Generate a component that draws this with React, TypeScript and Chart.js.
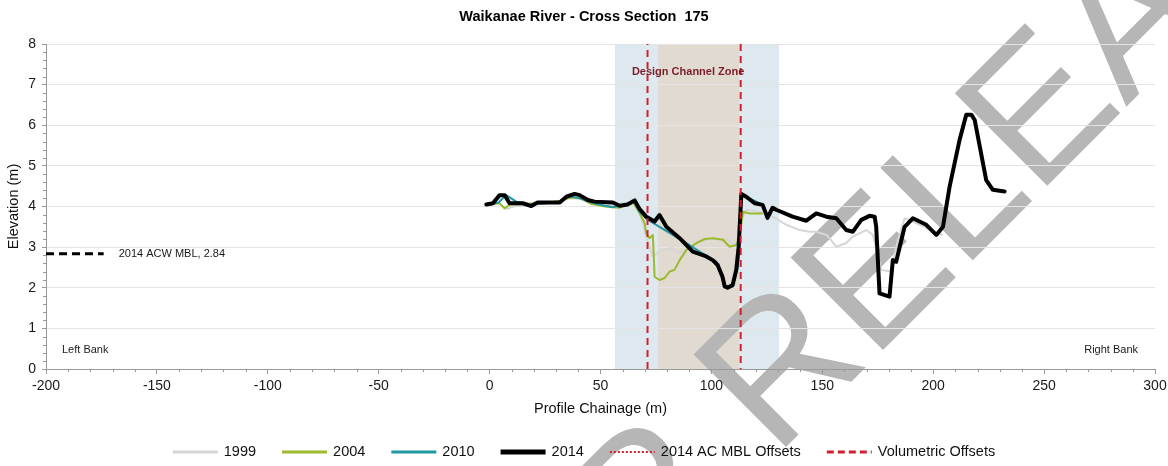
import React, { useEffect, useRef } from 'react';
import { Chart, registerables } from 'chart.js';

Chart.register(...registerables);

const FONT = '"Liberation Sans", Arial, Helvetica, sans-serif';

// ---- Data (chainage m, elevation m) ----
const ch1999 = [7.5, 10.4, 20, 30, 36, 42, 48, 56, 62, 65.4, 67.6, 69.5, 70.6, 73.6, 76.6, 81.9, 85.7, 88.7, 94.7, 100.7, 106.7, 111.2, 113.5, 115.7, 121.7, 127.7, 133.8, 139.8, 144.3, 147.3, 152, 156.3, 160.8, 163.8, 169.8, 172.8, 176.6, 181.1, 183.3, 187.1, 190.7, 196, 201.4, 204.2];
const el1999 = [3.93, 4.0, 4.05, 4.1, 4.2, 4.2, 4.08, 4.02, 4.04, 4.12, 3.85, 3.5, 3.26, 2.77, 2.89, 2.98, 2.86, 2.93, 3.14, 3.22, 3.18, 3.05, 3.67, 3.92, 3.87, 3.75, 3.55, 3.42, 3.38, 3.38, 3.3, 3.01, 3.1, 3.26, 3.42, 3.3, 2.44, 2.4, 3.01, 3.71, 3.63, 3.5, 3.34, 3.3];

const ch2004 = [0, 4.5, 6.8, 9, 15, 25, 32, 36, 41, 46, 52, 58.6, 64.5, 67.6, 69.9, 70.6, 72.1, 73.6, 74.4, 76.6, 78.9, 81.2, 83.4, 85.7, 88.7, 93.2, 97, 100.7, 105.2, 108.2, 111.2, 112.7, 114.2, 117.2, 123.2];
const el2004 = [4.05, 4.08, 3.95, 4.05, 4.07, 4.08, 4.14, 4.22, 4.2, 4.06, 4.0, 3.97, 4.12, 3.84, 3.59, 3.34, 3.22, 3.3, 2.27, 2.19, 2.24, 2.4, 2.44, 2.68, 2.93, 3.1, 3.2, 3.22, 3.18, 3.01, 3.05, 3.26, 3.87, 3.83, 3.83];

const ch2010 = [0, 4, 7.5, 12, 18, 25, 32, 36, 40.6, 46, 52, 55.6, 60, 65.4, 67.6, 71.4, 76.6, 82.6, 88.7, 94.7, 99.2, 102.2, 105.2, 106.7, 109.7, 112, 113.5, 117.2, 123.2, 125.5, 127.6];
const el2010 = [4.05, 4.1, 4.28, 4.12, 4.05, 4.08, 4.12, 4.26, 4.2, 4.1, 4.02, 3.98, 4.04, 4.12, 3.87, 3.67, 3.5, 3.3, 3.1, 2.89, 2.73, 2.64, 2.19, 1.99, 2.03, 2.52, 4.33, 4.2, 4.04, 3.75, 3.92];

const ch2014 = [-1.5, 1.5, 4.5, 6.8, 9, 15, 18.8, 21.6, 31.6, 34.6, 38.3, 40.6, 44.3, 47.3, 55.6, 58.6, 62.2, 65.4, 67.6, 70.6, 74.4, 76.6, 79.7, 85.7, 91.6, 97.7, 100.6, 102.8, 105, 106, 107.3, 109.6, 111.2, 112.3, 113.5, 115.7, 119.5, 123.1, 125.3, 127.6, 129.2, 136.6, 142.8, 147.3, 151.8, 156.3, 160.8, 163.8, 167.6, 171.3, 173.6, 174.3, 175.8, 180.3, 181.8, 183.3, 187.1, 190.8, 196.9, 201.4, 204.4, 207.4, 211.9, 214.9, 217.2, 218.7, 223.9, 226.9, 232.2];
const el2014 = [4.05, 4.08, 4.28, 4.28, 4.08, 4.08, 4.01, 4.1, 4.1, 4.24, 4.31, 4.28, 4.16, 4.12, 4.1, 4.02, 4.05, 4.15, 3.94, 3.75, 3.63, 3.79, 3.5, 3.22, 2.89, 2.77, 2.68, 2.56, 2.27, 2.03, 2.0, 2.07, 2.44, 3.01, 4.31, 4.24, 4.08, 4.04, 3.72, 3.97, 3.92, 3.75, 3.65, 3.83, 3.75, 3.71, 3.42, 3.38, 3.67, 3.77, 3.75, 3.5, 1.86, 1.78, 2.68, 2.64, 3.5, 3.71, 3.55, 3.3, 3.5, 4.49, 5.64, 6.26, 6.26, 6.13, 4.65, 4.41, 4.37];

const mblChainage = [-200, -174];
const mblElevation = 2.84;
const volumetricOffsets = [71.2, 113.2];
const channelOuter = [56.5, 130.5];
const channelInner = [76, 112.5];
const channelLabelAt = [89.5, 7.31];

const xTicks = { min: -200, max: 300, step: 50, minor: 10 };
const yTicks = { min: 0, max: 8, step: 1, minor: 0.2 };

const legendLabels = ['1999', '2004', '2010', '2014', '2014 AC MBL Offsets', 'Volumetric Offsets'];
const legendColors = ['#d6d6d6', '#9bba2d', '#1f98a3', '#000000', '#d21f2f', '#d21f2f'];
const legendWidths = [3, 3, 3, 5, 2, 3];
const legendDashes: number[][] = [[], [], [], [], [2, 2], [7, 4]];

const TITLE = 'Waikanae River - Cross Section  175';
const WM_PREFIX = 'NOT FOR ';
const WM_MAIN = 'RELEASE';

const pts = (xs: number[], ys: number[]) => xs.map((v, i) => ({ x: v, y: ys[i] }));

const decor = {
  id: 'decor',
  beforeDraw(chart: any) {
    const { ctx, chartArea: a, scales } = chart;
    const x = scales.x;
    ctx.save();
    // bands
    const o0 = x.getPixelForValue(channelOuter[0]);
    const o1 = x.getPixelForValue(channelOuter[1]);
    ctx.fillStyle = '#dde9ee';
    ctx.fillRect(o0, a.top, o1 - o0, a.bottom - a.top);
    const i0 = x.getPixelForValue(channelInner[0]);
    const i1 = x.getPixelForValue(channelInner[1]);
    ctx.fillStyle = '#e1dad0';
    ctx.fillRect(i0, a.top, i1 - i0, a.bottom - a.top);
    ctx.restore();

    // watermark
    ctx.save();
    ctx.font = `190px ${FONT}`;
    ctx.fillStyle = '#b6b6b6';
    ctx.textBaseline = 'alphabetic';
    ctx.textAlign = 'left';
    ctx.translate(775, 458);
    ctx.rotate(-Math.PI / 4);
    const pre = ctx.measureText(WM_PREFIX).width;
    ctx.fillText(WM_PREFIX + WM_MAIN, -pre, 0);
    ctx.restore();
  },
  afterDatasetsDraw(chart: any) {
    const { ctx, chartArea: a, scales } = chart;
    const x = scales.x, y = scales.y;
    ctx.save();
    ctx.fillStyle = '#1a1a1a';
    ctx.font = `11px ${FONT}`;
    ctx.textBaseline = 'middle';
    ctx.textAlign = 'left';
    ctx.fillText(`2014 ACW MBL, ${mblElevation}`, x.getPixelForValue(mblChainage[1]) + 15, y.getPixelForValue(mblElevation));
    ctx.fillText('Left Bank', a.left + 16, a.bottom - 19);
    ctx.textAlign = 'right';
    ctx.fillText('Right Bank', a.right - 17, a.bottom - 19);
    ctx.textAlign = 'center';
    ctx.font = `bold 11px ${FONT}`;
    ctx.fillStyle = '#7a1c2a';
    ctx.fillText('Design Channel Zone', x.getPixelForValue(channelLabelAt[0]), y.getPixelForValue(channelLabelAt[1]));
    ctx.restore();
  },
  afterDraw(chart: any) {
    const { ctx, chartArea: a, scales, width } = chart;
    const x = scales.x, y = scales.y;
    ctx.save();
    // minor ticks
    ctx.strokeStyle = '#999999';
    ctx.lineWidth = 1;
    ctx.beginPath();
    for (let v = xTicks.min; v <= xTicks.max + 1e-9; v += xTicks.minor) {
      if (Math.abs(v % xTicks.step) < 1e-6) continue;
      const px = Math.round(x.getPixelForValue(v)) + 0.5;
      ctx.moveTo(px, a.bottom);
      ctx.lineTo(px, a.bottom + 3);
    }
    for (let v = yTicks.min; v <= yTicks.max + 1e-9; v += yTicks.minor) {
      const r = Math.round(v * 10) / 10;
      if (Math.abs(r - Math.round(r)) < 1e-6) continue;
      const py = Math.round(y.getPixelForValue(r)) + 0.5;
      ctx.moveTo(a.left - 3, py);
      ctx.lineTo(a.left, py);
    }
    ctx.stroke();

    // title
    ctx.fillStyle = '#000';
    ctx.font = `bold 14.5px ${FONT}`;
    ctx.textAlign = 'center';
    ctx.textBaseline = 'middle';
    ctx.fillText(TITLE, width / 2, 17);

    // legend
    ctx.font = `14.5px ${FONT}`;
    const sample = 45, gapText = 6, gapItem = 26;
    const tw = legendLabels.map((l) => ctx.measureText(l).width);
    const total = tw.reduce((s, w) => s + sample + gapText + w, 0) + gapItem * (legendLabels.length - 1);
    let cx = width / 2 - total / 2;
    const ly = 452;
    legendLabels.forEach((l, i) => {
      ctx.beginPath();
      ctx.strokeStyle = legendColors[i];
      ctx.lineWidth = legendWidths[i];
      ctx.setLineDash(legendDashes[i]);
      ctx.moveTo(cx, ly);
      ctx.lineTo(cx + sample, ly);
      ctx.stroke();
      ctx.setLineDash([]);
      ctx.fillStyle = '#111';
      ctx.textAlign = 'left';
      ctx.fillText(l, cx + sample + gapText, ly);
      cx += sample + gapText + tw[i] + gapItem;
    });
    ctx.restore();
  },
};

export default function App() {
  const ref = useRef<HTMLCanvasElement | null>(null);
  useEffect(() => {
    if (!ref.current) return;
    const chart = new Chart(ref.current, {
      type: 'line',
      data: {
        datasets: [
          {
            label: 'Volumetric Offsets',
            data: [
              { x: volumetricOffsets[0], y: yTicks.min },
              { x: volumetricOffsets[0], y: yTicks.max },
              { x: (volumetricOffsets[0] + volumetricOffsets[1]) / 2, y: null as any },
              { x: volumetricOffsets[1], y: yTicks.max },
              { x: volumetricOffsets[1], y: yTicks.min },
            ],
            borderColor: '#d21f2f',
            borderWidth: 2,
            borderDash: [7, 5],
            pointRadius: 0,
            spanGaps: false,
            order: 0,
          },
          {
            label: '2014',
            data: pts(ch2014, el2014),
            borderColor: '#000000',
            borderWidth: 4,
            pointRadius: 0,
            borderJoinStyle: 'round',
            borderCapStyle: 'round',
            order: 1,
          },
          {
            label: '2010',
            data: pts(ch2010, el2010),
            borderColor: '#1f98a3',
            borderWidth: 2,
            pointRadius: 0,
            borderJoinStyle: 'round',
            order: 2,
          },
          {
            label: '2004',
            data: pts(ch2004, el2004),
            borderColor: '#9bba2d',
            borderWidth: 2,
            pointRadius: 0,
            borderJoinStyle: 'round',
            order: 3,
          },
          {
            label: '1999',
            data: pts(ch1999, el1999),
            borderColor: '#d6d6d6',
            borderWidth: 2,
            pointRadius: 0,
            borderJoinStyle: 'round',
            order: 4,
          },
          {
            label: '2014 ACW MBL',
            data: mblChainage.map((c) => ({ x: c, y: mblElevation })),
            borderColor: '#000000',
            borderWidth: 3,
            borderDash: [8, 5],
            pointRadius: 0,
            order: 5,
          },
        ],
      },
      options: {
        animation: false,
        responsive: false,
        devicePixelRatio: 1,
        layout: { padding: { left: 0, right: 13, top: 44, bottom: 0 } },
        plugins: {
          legend: { display: false },
          title: { display: false },
          tooltip: { enabled: false },
        },
        scales: {
          x: {
            type: 'linear',
            min: xTicks.min,
            max: xTicks.max,
            ticks: { stepSize: xTicks.step, font: { size: 14, family: FONT }, color: '#1a1a1a', padding: 4, maxRotation: 0 },
            grid: { drawOnChartArea: false, drawTicks: true, tickLength: 5, tickColor: '#999999' },
            border: { color: '#999999' },
            title: { display: true, text: 'Profile Chainage (m)', font: { size: 14.5, family: FONT }, color: '#111', padding: { top: 0, bottom: 48 } },
            afterFit: (s: any) => {
              s.height = 97;
              s.paddingLeft = 0;
              s.paddingRight = 0;
            },
          },
          y: {
            type: 'linear',
            min: yTicks.min,
            max: yTicks.max,
            ticks: { stepSize: yTicks.step, font: { size: 14, family: FONT }, color: '#1a1a1a', padding: 6 },
            grid: { color: '#e4e4e4', tickColor: '#999999', tickLength: 4 },
            border: { color: '#999999' },
            title: { display: true, text: 'Elevation (m)', font: { size: 14.5, family: FONT }, color: '#111', padding: { top: 5, bottom: 0 } },
            afterFit: (s: any) => {
              s.width = 46;
            },
          },
        },
      },
      plugins: [decor],
    } as any);
    return () => chart.destroy();
  }, []);
  return (
    <div style={{ position: 'absolute', left: 0, top: 0, width: 1168, height: 466 }}>
      <canvas ref={ref} width={1168} height={466} />
    </div>
  );
}
